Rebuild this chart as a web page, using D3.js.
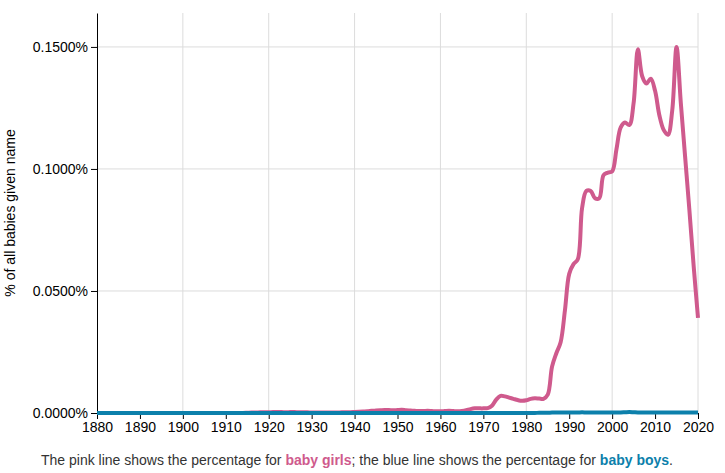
<!DOCTYPE html>
<html>
<head>
<meta charset="utf-8">
<script src="https://cdn.jsdelivr.net/npm/d3@7"></script>
<style>
  body { margin: 0; background: #fff; }
  svg { display: block; font-family: "Liberation Sans", Arial, sans-serif; }
</style>
</head>
<body>
<div id="chart"></div>
<script>

// ===============================
// Data (percent of all babies given the name)
// ===============================

const firstYear = 1880;
const lastYear = 2020;

// one value per year, 1880 .. 2020
const girls = [
    // 1880-1914
    0, 0, 0, 0, 0, 0, 0, 0, 0, 0,
    0, 0, 0, 0, 0, 0, 0, 0, 0, 0,
    0, 0, 0, 0, 0, 0, 0, 0, 0, 0,
    0, 0, 0, 0, 0,
    // 1915-1939
    0.0001, 0.0002, 0.0002, 0.0003, 0.0003,
    0.0003, 0.0004, 0.0004, 0.0004, 0.0003,
    0.0004, 0.0004, 0.0003, 0.0003, 0.0003,
    0.0002, 0.0002, 0.0002, 0.0002, 0.0002,
    0.0002, 0.0002, 0.0003, 0.0003, 0.0003,
    // 1940-1979
    0.0004, 0.0005, 0.0006, 0.0007, 0.0009,
    0.0010, 0.0011, 0.0012, 0.0012, 0.0011,
    0.0012, 0.0013, 0.0011, 0.0010, 0.0009,
    0.0008, 0.0008, 0.0009, 0.0008, 0.0007,
    0.0007, 0.0008, 0.0009, 0.0008, 0.0007,
    0.0008, 0.0011, 0.0016, 0.0019, 0.0019,
    0.0019, 0.0020, 0.0030, 0.0055, 0.0070,
    0.0068, 0.0063, 0.0058, 0.0053, 0.0050,
    // 1980-2020
    0.0052, 0.0058, 0.0060, 0.0059, 0.0058,
    0.0075, 0.0190, 0.0245, 0.0290, 0.0420,
    0.0570, 0.0610, 0.0630, 0.0840, 0.0910,
    0.0910, 0.0880, 0.0880, 0.0975, 0.0985,
    0.0990, 0.1080, 0.1170, 0.1190, 0.1180,
    0.1270, 0.1490, 0.1380, 0.1350, 0.1370,
    0.1320, 0.1220, 0.1160, 0.1140, 0.1240,
    0.1500, 0.1270, 0.1050, 0.0830, 0.0600,
    0.0390
];

const boys = [
    // 1880-1982
    ...new Array(103).fill(0),
    // 1983-2020
    0.0001, 0.0001, 0.0001, 0.0002, 0.0002,
    0.0002, 0.0002, 0.0002, 0.0002, 0.0002,
    0.0003, 0.0002, 0.0002, 0.0002, 0.0002,
    0.0002, 0.0002, 0.0002, 0.0002, 0.0002,
    0.0003, 0.0004, 0.0003, 0.0002, 0.0002,
    0.0002, 0.0002, 0.0002, 0.0002, 0.0002,
    0.0002, 0.0002, 0.0002, 0.0002, 0.0002,
    0.0002, 0.0002, 0.0002
];

const yTicks = [0, 0.05, 0.10, 0.15];
const yMax = 0.1639;

const pink = "#cf5a8d";
const blue = "#0c80ab";

// ===============================
// Chart
// ===============================

const width = 725;
const height = 473;

const margin = {
    top: 13,
    right: 27,
    bottom: 60,
    left: 97
};

const years = d3.range(firstYear, lastYear + 1);

const svg = d3.select("#chart")
    .append("svg")
    .attr("width", width)
    .attr("height", height);

// =========================
// Scales
// =========================

const x = d3.scaleLinear()
    .domain([firstYear, lastYear])
    .range([margin.left, width - margin.right]);

const y = d3.scaleLinear()
    .domain([0, yMax])
    .range([height - margin.bottom, margin.top]);

// =========================
// Grid lines
// =========================

const grid = svg.append("g")
    .attr("stroke", "#dcdcdc")
    .attr("stroke-width", 1);

grid.selectAll(".vgrid")
    .data(d3.range(1900, lastYear + 1, 20))
    .join("line")
    .attr("x1", d => x(d))
    .attr("x2", d => x(d))
    .attr("y1", margin.top)
    .attr("y2", height - margin.bottom);

grid.selectAll(".hgrid")
    .data(yTicks.slice(1))
    .join("line")
    .attr("x1", margin.left)
    .attr("x2", width - margin.right)
    .attr("y1", d => y(d))
    .attr("y2", d => y(d));

// =========================
// Axes
// =========================

const xAxis = svg.append("g")
    .attr("transform", `translate(0,${height - margin.bottom})`)
    .call(
        d3.axisBottom(x)
            .tickValues(d3.range(firstYear, lastYear + 1, 10))
            .tickFormat(d3.format("d"))
            .tickSizeOuter(0)
    );

const yAxis = svg.append("g")
    .attr("transform", `translate(${margin.left},0)`)
    .call(
        d3.axisLeft(y)
            .tickValues(yTicks)
            .tickFormat(d => d.toFixed(4) + "%")
            .tickSizeOuter(0)
    );

[xAxis, yAxis].forEach(g => {
    g.selectAll("text")
        .style("font-size", "14px")
        .attr("fill", "#000");
    g.selectAll("path, line").attr("stroke", "#000");
});

svg.append("text")
    .attr("transform", "rotate(-90)")
    .attr("x", -213)
    .attr("y", 15)
    .attr("text-anchor", "middle")
    .style("font-size", "14px")
    .text("% of all babies given name");

// =========================
// Lines
// =========================

const line = d3.line()
    .x((d, i) => x(years[i]))
    .y(d => y(d))
    .curve(d3.curveCatmullRom);

svg.append("path")
    .datum(girls)
    .attr("fill", "none")
    .attr("stroke", pink)
    .attr("stroke-width", 4)
    .attr("stroke-linejoin", "round")
    .attr("d", line);

svg.append("path")
    .datum(boys)
    .attr("fill", "none")
    .attr("stroke", blue)
    .attr("stroke-width", 4)
    .attr("stroke-linejoin", "round")
    .attr("d", line);

// =========================
// Caption
// =========================

const caption = svg.append("text")
    .attr("x", 357)
    .attr("y", 465)
    .attr("text-anchor", "middle")
    .style("font-size", "14px")
    .attr("fill", "#333");

caption.append("tspan").text("The pink line shows the percentage for ");
caption.append("tspan").attr("fill", pink).attr("font-weight", "bold").text("baby girls");
caption.append("tspan").text("; the blue line shows the percentage for ");
caption.append("tspan").attr("fill", blue).attr("font-weight", "bold").text("baby boys");
caption.append("tspan").text(".");

</script>
</body>
</html>
